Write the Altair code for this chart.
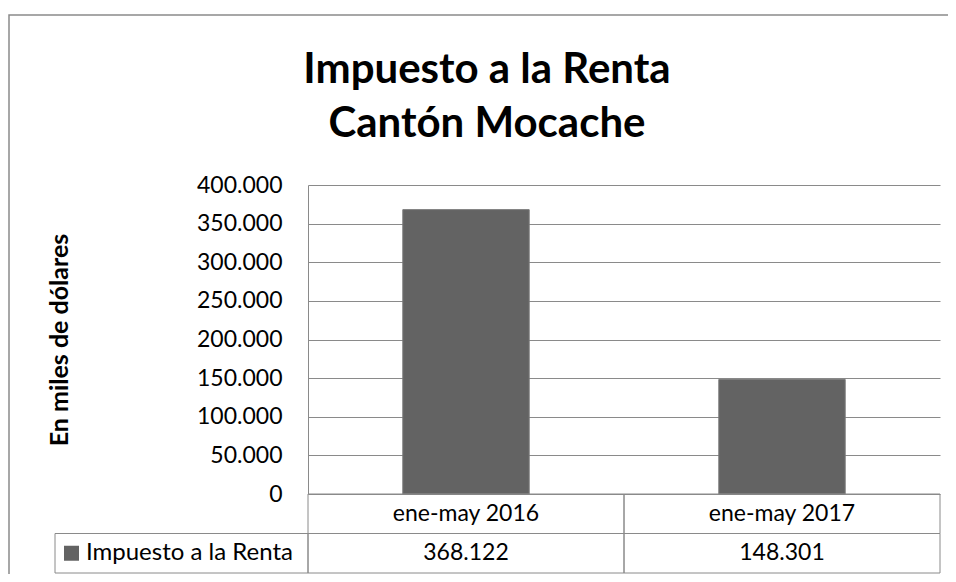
import altair as alt
import pandas as pd

title_lines = ["Impuesto a la Renta", "Cantón Mocache"]
periodos = ["ene-may 2016", "ene-may 2017"]
valores = [368122, 148301]
serie = ["Impuesto a la Renta"]
y_ticks = [0, 50000, 100000, 150000, 200000, 250000, 300000, 350000, 400000]

df = pd.DataFrame({"periodo": periodos, "valor": valores})
df_leg = pd.DataFrame({"serie": serie})

W, H = 632, 309
ROW = 39.5
GRAY = "#8a8a8a"
BAR = "#636363"
FONT = "Lato"
TXT = 23
fmt = "replace(format(datum.valor, ',d'), ',', '.')"

base = alt.Chart(df)

bars = base.mark_bar(color=BAR, stroke="#7a7a7a", strokeWidth=1).encode(
    x=alt.X("periodo:N", sort=periodos, axis=None,
            scale=alt.Scale(paddingInner=0.6, paddingOuter=0.3)),
    y=alt.Y("valor:Q", scale=alt.Scale(domain=[0, 400000], nice=False),
            axis=alt.Axis(values=y_ticks,
                          labelExpr="replace(format(datum.value, ',d'), ',', '.')",
                          labelFont=FONT, labelFontSize=TXT, labelColor="black",
                          labelPadding=26, ticks=False,
                          domainColor=GRAY, gridColor=GRAY,
                          title="En miles de dólares", titleFont=FONT,
                          titleFontSize=25, titleFontWeight="bold",
                          titleColor="black", titleX=-241,
                          titleBaseline="alphabetic")),
)

xt = alt.X("periodo:N", sort=periodos, axis=None,
           scale=alt.Scale(paddingInner=0, paddingOuter=0))

row1 = base.mark_rect(fillOpacity=0, stroke=GRAY, strokeWidth=1).encode(
    x=xt, y=alt.value(H), y2=alt.value(H + ROW))
row2 = base.mark_rect(fillOpacity=0, stroke=GRAY, strokeWidth=1).encode(
    x=xt, y=alt.value(H + ROW), y2=alt.value(H + 2 * ROW))
cat_text = base.mark_text(font=FONT, fontSize=TXT, color="black",
                          baseline="middle").encode(
    x=xt, y=alt.value(H + ROW / 2), text="periodo:N")
val_text = base.transform_calculate(lbl=fmt).mark_text(
    font=FONT, fontSize=TXT, color="black", baseline="middle").encode(
    x=xt, y=alt.value(H + ROW * 1.5), text="lbl:N")

leg = alt.Chart(df_leg)
leg_box = leg.mark_rect(fillOpacity=0, stroke=GRAY, strokeWidth=1).encode(
    x=alt.value(-253), x2=alt.value(0),
    y=alt.value(H + ROW), y2=alt.value(H + 2 * ROW))
leg_sq = leg.mark_square(color=BAR, opacity=1, size=225).encode(
    x=alt.value(-236.5), y=alt.value(H + ROW * 1.5))
leg_txt = leg.mark_text(font=FONT, fontSize=24, color="black", align="left",
                        baseline="middle").encode(
    x=alt.value(-222), y=alt.value(H + ROW * 1.5), text="serie:N")
frame = leg.mark_rect(fillOpacity=0, stroke=GRAY, strokeWidth=1.5).encode(
    x=alt.value(-299), x2=alt.value(W + 60),
    y=alt.value(-170), y2=alt.value(H + 150))

t1 = leg.mark_text(font=FONT, fontSize=42, fontWeight="bold", color="black",
                   align="center", baseline="alphabetic").encode(
    x=alt.value(179), y=alt.value(-102), text=alt.value(title_lines[0]))
t2 = leg.mark_text(font=FONT, fontSize=42, fontWeight="bold", color="black",
                   align="center", baseline="alphabetic").encode(
    x=alt.value(179), y=alt.value(-48), text=alt.value(title_lines[1]))

chart = alt.layer(
    frame, bars, row1, row2, cat_text, val_text, leg_box, leg_sq, leg_txt,
    t1, t2
).resolve_scale(x="independent").properties(
    width=W, height=H,
    autosize=alt.AutoSizeParams(type="none"),
    padding={"left": 300, "top": 177, "right": 8, "bottom": 80},
    background="white",
).configure_view(strokeWidth=0)

chart.save("out.html", embed_options={"renderer": "svg", "actions": False})
